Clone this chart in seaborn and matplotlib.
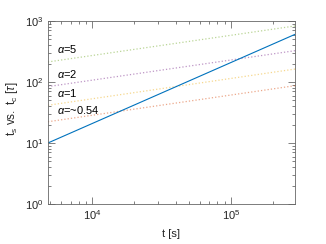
import numpy as np
import pandas as pd
import matplotlib
matplotlib.use("Agg")
import matplotlib.pyplot as plt
import seaborn as sns
from matplotlib.ticker import LogLocator, NullFormatter

# data (end points of each straight line on log-log axes)
t_s = [4.8e3, 2.9e5]
ts_tc = [10.0, 604.0]
alpha_names = ["α=5", "α=2", "α=1", "α=~0.54"]
alpha_left = [213.0, 84.0, 41.5, 22.3]
alpha_right = [829.0, 326.0, 163.0, 87.0]
alpha_labels = [r"$\alpha$=5", r"$\alpha$=2", r"$\alpha$=1", r"$\alpha$=~0.54"]
label_y = [347.0, 135.0, 66.0, 35.0]

sns.set_style("ticks")
plt.rcParams["font.family"] = ["Liberation Sans", "DejaVu Sans"]
plt.rcParams["mathtext.fontset"] = "custom"
plt.rcParams["mathtext.rm"] = "Liberation Sans"
plt.rcParams["mathtext.it"] = "Liberation Sans:italic"

colors = ["#77AC30", "#7E2F8E", "#EDB120", "#D95319"]

fig = plt.figure(figsize=(3.26, 2.44), dpi=100)
ax = fig.add_axes([0.147, 0.164, 0.758, 0.750])

rows = []
for name, a, b in zip(alpha_names, alpha_left, alpha_right):
    rows.append({"t": t_s[0], "v": a, "name": name})
    rows.append({"t": t_s[1], "v": b, "name": name})
df = pd.DataFrame(rows)

sns.lineplot(data=df, x="t", y="v", hue="name", palette=colors, ax=ax,
             linestyle=":", linewidth=0.9, alpha=0.5, legend=False)
sns.lineplot(x=t_s, y=ts_tc, color="#0072BD", linewidth=0.8, ax=ax)

ax.set_xscale("log")
ax.set_yscale("log")
ax.set_xlim(t_s[0], t_s[1])
ax.set_ylim(1, 1000)

for lab, y in zip(alpha_labels, label_y):
    ax.text(5.6e3, y, lab, fontsize=8, va="center", ha="left", color="black")

ax.set_xlabel("t [s]", fontsize=8, labelpad=5)
ax.set_ylabel(r"$\mathregular{t_s\ vs.\ t_c\ [}\mathit{\tau}\mathregular{]}$", fontsize=8.5, labelpad=5)
ax.yaxis.set_label_coords(-0.115, 0.52)

ax.xaxis.set_major_locator(LogLocator(base=10, numticks=10))
ax.xaxis.set_minor_locator(LogLocator(base=10, subs=np.arange(2, 10), numticks=20))
ax.xaxis.set_minor_formatter(NullFormatter())
ax.yaxis.set_major_locator(LogLocator(base=10, numticks=10))
ax.yaxis.set_minor_locator(LogLocator(base=10, subs=np.arange(2, 10), numticks=20))
ax.yaxis.set_minor_formatter(NullFormatter())

ax.tick_params(which="both", direction="in", top=True, right=True,
               color="0.3", width=0.5, labelsize=8, labelcolor="0.15")
ax.tick_params(which="major", length=4.8, pad=3)
ax.tick_params(which="minor", length=2.2)
for s in ax.spines.values():
    s.set_linewidth(0.6)
    s.set_color("0.4")
    s.set_visible(True)

fig.savefig("out.png", dpi=100)
